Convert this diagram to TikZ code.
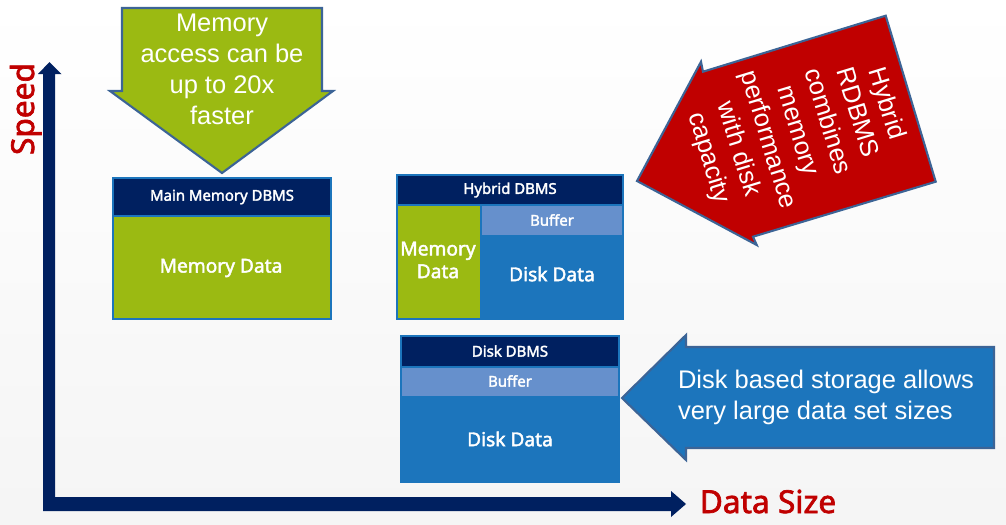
\documentclass[tikz,border=0pt]{standalone}
\usepackage{fontspec}
\setmainfont{Liberation Sans}
\newfontfamily\lblfont{Noto Sans}[AutoFakeBold=2.2]
\usepackage{tikz}

\definecolor{navy}{RGB}{0,32,96}
\definecolor{leaf}{RGB}{155,186,18}
\definecolor{disk}{RGB}{28,117,188}
\definecolor{buff}{RGB}{102,144,204}
\definecolor{rim}{RGB}{60,100,150}
\definecolor{darkred}{RGB}{192,0,0}

\begin{document}
\begin{tikzpicture}[x=0.02cm,y=-0.02cm,
    boxline/.style={draw=disk,line width=0.6pt},
    callout/.style={draw=rim,line width=1.2pt,line join=miter},
    calltext/.style={text=white,font=\fontsize{14.5}{17.6}\selectfont,align=center},
    small/.style={text=white,font=\lblfont\bfseries\fontsize{8.5}{10}\selectfont},
    big/.style={text=white,font=\lblfont\bfseries\fontsize{10.9}{12.9}\selectfont,align=center},
    axlabel/.style={text=darkred,font=\lblfont\bfseries\fontsize{18}{20}\selectfont}]
      \useasboundingbox (0,0) rectangle (1006,524);
      \shade[top color=white,bottom color=gray!8] (0,0) rectangle (1006,524);

      % axes
      \fill[navy] (43,511) -- (43,74) -- (38,74) -- (49.5,62) -- (61.5,74) -- (55,74)
        -- (55,497) -- (671,497) -- (671,491) -- (686,504) -- (671,517) -- (671,511) -- cycle;
      \node (speed) at (34,109) [axlabel,rotate=90,anchor=base] {Speed};
      \node (size) at (768,513) [axlabel,anchor=base] {Data Size};

      % main memory dbms
      \fill[navy] (113,178) rectangle (331,216);
      \fill[leaf] (113,216) rectangle (331,319);
      \draw[boxline] (113,178) rectangle (331,319) (113,216) -- (331,216);
      \node (mmhead) at (222,197) [small] {Main Memory DBMS};
      \node (mmdata) at (221,268) [big] {Memory Data};

      % hybrid dbms
      \fill[navy] (397,175) rectangle (623,205);
      \fill[leaf] (397,205) rectangle (481,319);
      \fill[buff] (481,205) rectangle (623,235);
      \fill[disk] (481,235) rectangle (623,319);
      \draw[boxline] (397,175) rectangle (623,319) (397,205) -- (623,205) (481,205) -- (481,319);
      \node (hyhead) at (510,190) [small] {Hybrid DBMS};
      \node (hybuf) at (552,220) [small] {Buffer};
      \node (hymem) at (438,260) [big] {Memory\\Data};
      \node (hydisk) at (552,274) [big] {Disk Data};

      % disk dbms
      \fill[navy] (401,336) rectangle (619,367);
      \fill[buff] (401,367) rectangle (619,396);
      \fill[disk] (401,396) rectangle (619,482);
      \draw[boxline] (401,336) rectangle (619,482) (401,367) -- (619,367);
      \node (dkhead) at (510,351) [small] {Disk DBMS};
      \node (dkbuf) at (510,381) [small] {Buffer};
      \node (dkdata) at (510,439) [big] {Disk Data};

      % callouts
      \filldraw[callout,fill=leaf] (122,8) -- (322,8) -- (322,91) -- (333,91) -- (222,173)
        -- (110,91) -- (122,91) -- cycle;
      \node (fast) at (222,69) [calltext] {Memory\\access can be\\up to 20x\\faster};

      \filldraw[callout,fill=disk] (622,398) -- (686,335) -- (686,347) -- (994,347)
        -- (994,448) -- (686,448) -- (686,460) -- cycle;
      \node (large) at (826,397) [calltext,align=left] {Disk based storage allows\\very large data set sizes};

      \filldraw[callout,fill=darkred] (885.7,15.7) -- (935.7,181.7) -- (753,236.7) -- (756.7,245)
        -- (637,181) -- (701,61.7) -- (703,71.7) -- cycle;
      \node (hybrid) at (797,131) [calltext,rotate=-73] {Hybrid\\RDBMS\\combines\\memory\\performance\\with disk\\capacity};
\end{tikzpicture}
\end{document}
